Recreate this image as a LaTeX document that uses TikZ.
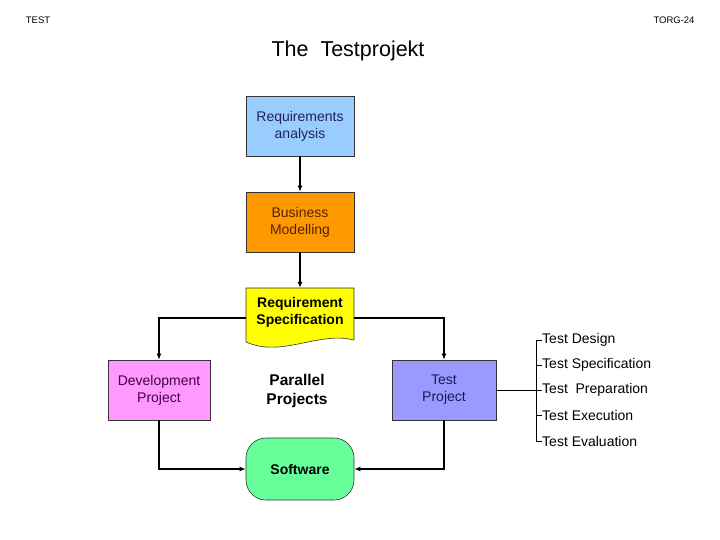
\documentclass[tikz,border=0pt]{standalone}
\usepackage{fontspec}
\setmainfont{Liberation Sans}
\usetikzlibrary{arrows.meta}
\definecolor{cReq}{HTML}{99CCFF}
\definecolor{cBus}{HTML}{FF9900}
\definecolor{cSpec}{HTML}{FFFF00}
\definecolor{cDev}{HTML}{FF99FF}
\definecolor{cTest}{HTML}{9999FF}
\definecolor{cSoft}{HTML}{66FF99}
\definecolor{tReq}{HTML}{222255}
\definecolor{tBus}{HTML}{552200}
\definecolor{tDev}{HTML}{440044}
\definecolor{tTest}{HTML}{1A1A55}
\tikzset{
  box/.style={draw=black!80, line width=0.6pt, minimum width=108pt, minimum height=60pt, align=center, inner sep=0pt, font=\fontsize{14}{17}\selectfont},
  conn/.style={line width=1.7pt, -{Latex[length=6pt,width=5pt]}},
  plain/.style={line width=0.9pt},
  lbl/.style={anchor=west, inner sep=0pt, font=\fontsize{14}{16}\selectfont},
}
\begin{document}
\begin{tikzpicture}[x=1pt,y=-1pt]
\useasboundingbox (0,0) rectangle (720,540);
\node[font=\fontsize{9.5}{11}\selectfont] (hl) at (38,20) {TEST};
\node[font=\fontsize{9.5}{11}\selectfont] (hr) at (674,20) {TORG-24};
\node[font=\fontsize{21.5}{25}\selectfont] (title) at (348,51) {The\ \ Testprojekt};

\node[box, fill=cReq, text=tReq] (ra) at (300,126) {Requirements\\analysis};
\node[box, fill=cBus, text=tBus] (bm) at (300,222) {Business\\Modelling};
\node[minimum width=108pt, minimum height=60pt, inner sep=0pt] (rs) at (300,318) {};
\draw[draw=black!80, line width=0.6pt, fill=cSpec]
  (246,288) -- (354,288) -- (354,340)
  .. controls (318,331) and (282,358) .. (246,342) -- cycle;
\node[align=center, font=\bfseries\fontsize{14}{17}\selectfont] (rst) at (300,312) {Requirement\\Specification};

\node[box, minimum width=102pt, fill=cDev, text=tDev] (dev) at (159,390) {Development\\Project};
\node[align=center, font=\bfseries\fontsize{15.5}{19}\selectfont] (pp) at (297,391) {Parallel\\Projects};
\node[box, minimum width=104pt, fill=cTest, text=tTest] (tp) at (444,390) {Test\\Project};
\node[box, minimum height=62pt, rounded corners=20pt, fill=cSoft, font=\bfseries\fontsize{14}{16}\selectfont] (sw) at (300,469) {Software};

\draw[conn] (ra) -- (bm);
\draw[conn] (bm) -- (rs);
\draw[conn] (rs.west) -| (dev.north);
\draw[conn] (rs.east) -| (tp.north);
\draw[conn] (dev.south) |- (sw.west);
\draw[conn] (tp.south) |- (sw.east);

\node[lbl] (l1) at (542,340) {Test Design};
\node[lbl] (l2) at (542,365) {Test Specification};
\node[lbl] (l3) at (542,390) {Test\ \ Preparation};
\node[lbl] (l4) at (542,415) {Test Execution};
\node[lbl] (l5) at (542,441) {Test Evaluation};
\coordinate (br) at (536,390);
\draw[plain] (tp.east) -- (br);
\draw[plain] (l1.west) -- (l1.west -| br) -- (l5.west -| br) -- (l5.west);
\draw[plain] (l2.west) -- (l2.west -| br);
\draw[plain] (l3.west) -- (br);
\draw[plain] (l4.west) -- (l4.west -| br);
\end{tikzpicture}
\end{document}
